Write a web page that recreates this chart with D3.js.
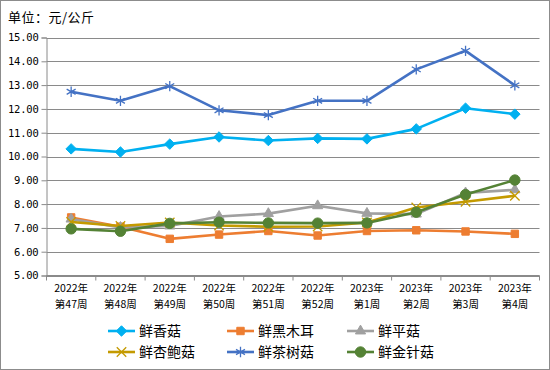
<!DOCTYPE html>
<html lang="zh">
<head>
<meta charset="UTF-8">
<script src="https://d3js.org/d3.v7.min.js"></script>
<style>
    body { margin: 0; background: white; }
    svg { display: block; }
    .cn { font-family: "Noto Sans CJK SC", sans-serif; }
</style>
</head>
<body>
<div id="chart"></div>
<script>
    // categories (two-line labels)
    var years = ["2022年","2022年","2022年","2022年","2022年","2022年","2023年","2023年","2023年","2023年"];
    var weeks = ["第47周","第48周","第49周","第50周","第51周","第52周","第1周","第2周","第3周","第4周"];
    var yTicks = [5,6,7,8,9,10,11,12,13,14,15];

    var seriesNames = ["鲜香菇","鲜黑木耳","鲜平菇","鲜杏鲍菇","鲜茶树菇","鲜金针菇"];
    var xianggu   = [10.32,10.19,10.52,10.82,10.67,10.76,10.74,11.16,12.03,11.78];
    var heimuer   = [7.44,7.05,6.54,6.72,6.87,6.68,6.87,6.90,6.85,6.75];
    var pinggu    = [7.37,7.02,7.08,7.48,7.60,7.93,7.61,7.58,8.47,8.60];
    var xingbaogu = [7.25,7.08,7.23,7.10,7.05,7.06,7.23,7.86,8.10,8.35];
    var chashugu  = [12.72,12.34,12.96,11.94,11.74,12.34,12.34,13.66,14.44,12.99];
    var jinzhengu = [6.96,6.86,7.19,7.24,7.21,7.20,7.21,7.66,8.40,9.01];

    var colors  = ["#00B0F0","#ED7D31","#A0A0A0","#C49A00","#4472C4","#548235"];
    var symbols = [d3.symbolDiamond2, d3.symbolSquare, d3.symbolTriangle, d3.symbolTimes, d3.symbolAsterisk, d3.symbolCircle];
    var symSize = [70, 55, 45, 60, 75, 85];
    var allData = [xianggu, heimuer, pinggu, xingbaogu, chashugu, jinzhengu];

    var W = 550, H = 370;
    var plotLeft = 46.5, plotRight = 539.5, plotTop = 37.5, plotBottom = 275.5;

    var svg = d3.select("#chart").append("svg").attr("width", W).attr("height", H);
    svg.append("rect").attr("x", 0.5).attr("y", 0.5).attr("width", W - 1).attr("height", H - 1)
        .attr("fill", "white").attr("stroke", "#8c8c8c");

    svg.append("text").attr("class", "cn").attr("x", 8).attr("y", 22)
        .attr("font-size", "13px").attr("letter-spacing", "0.5px").attr("fill", "#000").text("单位：元/公斤");

    var x = d3.scaleBand().domain(d3.range(10)).range([plotLeft, plotRight]).padding(0);
    var y = d3.scaleLinear().domain([5, 15]).range([plotBottom, plotTop]);

    // gridlines
    svg.append("g").selectAll("line").data(yTicks).enter().append("line")
        .attr("x1", plotLeft).attr("x2", plotRight)
        .attr("y1", function(d){ return Math.round(y(d)) + 0.5; })
        .attr("y2", function(d){ return Math.round(y(d)) + 0.5; })
        .attr("stroke", "#8a8a8a").attr("stroke-width", 1);

    // y axis
    var yAxis = svg.append("g").attr("transform", "translate(" + plotLeft + ",0)")
        .call(d3.axisLeft(y).tickValues(yTicks).tickSize(5).tickFormat(d3.format(".2f")));
    yAxis.selectAll("line").attr("stroke", "#8a8a8a");
    yAxis.select(".domain").attr("stroke", "#8a8a8a");
    yAxis.selectAll("text").attr("font-family", "DejaVu Sans Mono, monospace")
        .attr("font-size", "10.5px").attr("fill", "#000").attr("letter-spacing", "-0.2px");

    // x axis line + ticks at band boundaries
    var xg = svg.append("g");
    xg.append("line").attr("x1", plotLeft).attr("x2", plotRight).attr("y1", plotBottom).attr("y2", plotBottom)
        .attr("stroke", "#8a8a8a");
    var bounds = d3.range(11).map(function(i){ return i < 10 ? x(i) : x.range()[1]; });
    xg.selectAll(".tk").data(bounds).enter().append("line")
        .attr("x1", function(d){ return d; }).attr("x2", function(d){ return d; })
        .attr("y1", plotBottom).attr("y2", plotBottom + 5).attr("stroke", "#8a8a8a");
    // two separate text rows for the category labels
    [years, weeks].forEach(function(row, r) {
        xg.selectAll(".lab" + r).data(d3.range(10)).enter().append("text")
            .attr("class", "cn lab" + r).attr("text-anchor", "middle")
            .attr("font-size", "10.5px").attr("fill", "#000")
            .attr("x", function(d){ return x(d) + x.bandwidth() / 2; })
            .attr("y", r === 0 ? 292 : 307.5)
            .text(function(d){ return row[d]; });
    });

    var line = d3.line()
        .x(function(d, i){ return x(i) + x.bandwidth() / 2; })
        .y(function(d){ return y(d); });

    function drawMarker(sel, s) {
        var strokeOnly = (s === 3 || s === 4);
        sel.attr("d", d3.symbol().type(symbols[s]).size(symSize[s]))
            .attr("fill", strokeOnly ? "none" : colors[s])
            .attr("stroke", colors[s])
            .attr("stroke-width", strokeOnly ? 1.3 : 1);
    }

    allData.forEach(function(vals, s) {
        var g = svg.append("g");
        g.append("path").datum(vals).attr("d", line)
            .attr("fill", "none").attr("stroke", colors[s]).attr("stroke-width", 2.6)
            .attr("stroke-linejoin", "round");
        g.selectAll("path.m").data(vals).enter().append("path").attr("class", "m")
            .attr("transform", function(d, i){
                return "translate(" + (x(i) + x.bandwidth() / 2) + "," + y(d) + ")";
            })
            .call(drawMarker, s);
    });

    // legend
    var legX = [108, 227, 347];
    var legY = [331, 352];
    seriesNames.forEach(function(name, s) {
        var lx = legX[s % 3], ly = legY[Math.floor(s / 3)];
        var g = svg.append("g");
        g.append("line").attr("x1", lx).attr("x2", lx + 27).attr("y1", ly).attr("y2", ly)
            .attr("stroke", colors[s]).attr("stroke-width", 2.6);
        g.append("path").attr("transform", "translate(" + (lx + 13.5) + "," + ly + ")")
            .call(drawMarker, s);
        g.append("text").attr("class", "cn").attr("x", lx + 31).attr("y", ly + 5)
            .attr("font-size", "14px").attr("fill", "#000").text(name);
    });
</script>
</body>
</html>
